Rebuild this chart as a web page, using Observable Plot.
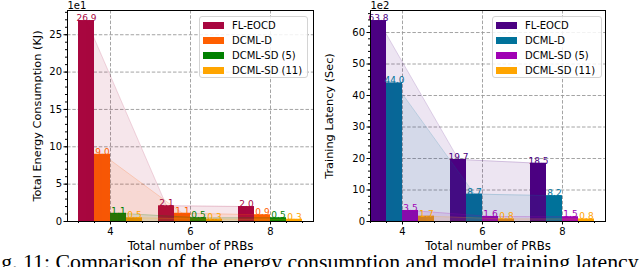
<!DOCTYPE html>
<html>
<head>
<meta charset="utf-8">
<script src="https://cdn.jsdelivr.net/npm/d3@7"></script>
<script src="https://cdn.jsdelivr.net/npm/@observablehq/plot@0.6"></script>
<style>
  html, body { margin: 0; padding: 0; background: #fff; }
  body { width: 640px; height: 267px; overflow: hidden; position: relative; }
  .panel { position: absolute; top: 0; }
  .legend { position: absolute; box-sizing: border-box; border: 1px solid #d4d4d4; border-radius: 3px;
            background: rgba(255,255,255,0.85); font-family: "DejaVu Sans", sans-serif; font-size: 10px; padding-top: 1px; }
  .legend .row { height: 15px; display: flex; align-items: center; white-space: nowrap; }
  .legend .sw { width: 21px; height: 7px; margin-left: 3px; margin-right: 8px; flex: none; }
  .caption { position: absolute; top: 251.5px; left: -17px; font-family: "Liberation Serif", serif; font-size: 21.8px;
             line-height: 21.8px; white-space: nowrap; color: #000; }
</style>
</head>
<body>
<div id="root"></div>
<script>
// ---- data ----
const prbs = [4, 6, 8];
const seriesNames = ["FL-EOCD", "DCML-D", "DCML-SD (5)", "DCML-SD (11)"];

const energyFLEOCD = [26.9, 2.1, 2.0];
const energyDCMLD  = [9.0, 1.1, 0.9];
const energySD5    = [1.1, 0.5, 0.5];
const energySD11   = [0.5, 0.3, 0.3];

const latencyFLEOCD = [63.8, 19.7, 18.5];
const latencyDCMLD  = [44.0, 8.7, 8.2];
const latencySD5    = [3.5, 1.6, 1.5];
const latencySD11   = [1.7, 0.8, 0.8];

const energyColors  = ["#a8063f", "#ff5f00", "#008000", "#ffa500"];
const latencyColors = ["#4b0082", "#00729a", "#a000b4", "#ffa500"];

const energyTicks  = [0, 5, 10, 15, 20, 25];
const latencyTicks = [0, 10, 20, 30, 40, 50, 60];

const captionText = "Fig. 11: Comparison of the energy consumption and model training latency";

// ---- helpers ----
const barWidth = 0.4;
function rowsFor(valueArrays, colors) {
  const rows = [];
  valueArrays.forEach((vals, si) => {
    vals.forEach((v, gi) => {
      const xc = prbs[gi] + (si - 1.5) * barWidth;
      rows.push({series: seriesNames[si], color: colors[si], value: v, xc,
                 x1: xc - barWidth / 2, x2: xc + barWidth / 2});
    });
  });
  return rows;
}

function panel({rows, xDomain, yMax, yTicks, yMinorStep, yLabel, offsetText, width, marginLeft, marginRight, labelDx}) {
  const xMinor = d3.range(32, 91, 4).map(d => d / 10).filter(d => d >= xDomain[0] - 1e-9 && d <= xDomain[1]);
  const yMinor = d3.range(0, yMax, yMinorStep);
  return Plot.plot({
    width, height: 252,
    marginLeft, marginRight, marginTop: 10, marginBottom: 31,
    x: {domain: xDomain},
    y: {domain: [0, yMax]},
    color: {type: "identity"},
    style: {fontFamily: "DejaVu Sans, sans-serif", fontSize: "10px", background: "transparent", overflow: "visible", color: "#000"},
    marks: [
      Plot.gridX(prbs, {stroke: "#9a9a9a", strokeOpacity: 1, strokeWidth: 0.9, strokeDasharray: "3.5,1.8"}),
      Plot.gridY(yTicks, {stroke: "#9a9a9a", strokeOpacity: 1, strokeWidth: 0.9, strokeDasharray: "3.5,1.8"}),
      Plot.rect(rows, {x1: "x1", x2: "x2", y1: 0, y2: "value", fill: "color"}),
      Plot.area(rows, {x1: "xc", y1: 0, y2: "value", z: "series", fill: "color", fillOpacity: 0.1}),
      Plot.line(rows, {x: "xc", y: "value", z: "series", stroke: "color", strokeOpacity: 0.18, strokeWidth: 1}),
      Plot.text(rows, {x: "xc", y: "value", text: d => d.value.toFixed(1), fill: "color", fontSize: 9, lineAnchor: "bottom", dy: 0.5}),
      Plot.frame({stroke: "#000", strokeWidth: 1}),
      Plot.axisX(prbs, {tickSize: 3.5, tickPadding: 3, fontSize: 10, label: null, tickFormat: d => String(d)}),
      Plot.axisX(xMinor, {tickSize: 2, tickFormat: () => "", label: null}),
      Plot.axisY(yTicks, {tickSize: 3.5, tickPadding: 2, fontSize: 10, label: null, tickFormat: d => String(d)}),
      Plot.axisY(yMinor, {tickSize: 2, tickFormat: () => "", label: null}),
      Plot.text([offsetText], {frameAnchor: "top-left", text: d => d, textAnchor: "start", lineAnchor: "bottom", dy: -2, fontSize: 10}),
      Plot.text([yLabel], {frameAnchor: "left", text: d => d, rotate: -90, dx: labelDx, fontSize: 11.3, textAnchor: "middle", lineAnchor: "middle"}),
      Plot.text(["Total number of PRBs"], {frameAnchor: "bottom", text: d => d, dy: 25, fontSize: 11.8, lineAnchor: "middle"})
    ]
  });
}

function legend(colors, left, top, width) {
  const div = document.createElement("div");
  div.className = "legend";
  div.style.left = left + "px";
  div.style.top = top + "px";
  div.style.width = width + "px";
  div.style.height = "62px";
  seriesNames.forEach((name, i) => {
    const row = document.createElement("div");
    row.className = "row";
    const sw = document.createElement("span");
    sw.className = "sw";
    sw.style.background = colors[i];
    const t = document.createElement("span");
    t.textContent = name;
    row.appendChild(sw); row.appendChild(t);
    div.appendChild(row);
  });
  return div;
}

const root = document.getElementById("root");

const left = panel({
  rows: rowsFor([energyFLEOCD, energyDCMLD, energySD5, energySD11], energyColors),
  xDomain: [2.925, 9.075], yMax: 28.245, yTicks: energyTicks, yMinorStep: 1,
  yLabel: "Total Energy Consumption (KJ)", offsetText: "1e1",
  width: 320, marginLeft: 67, marginRight: 7, labelDx: -30
});
left.classList.add("panel");
left.style.left = "0px";
root.appendChild(left);

const right = panel({
  rows: rowsFor([latencyFLEOCD, latencyDCMLD, latencySD5, latencySD11], latencyColors),
  xDomain: [3.2, 9.075], yMax: 66.99, yTicks: latencyTicks, yMinorStep: 2,
  yLabel: "Training Latency (Sec)", offsetText: "1e2",
  width: 320, marginLeft: 50, marginRight: 35, labelDx: -41
});
right.classList.add("panel");
right.style.left = "320px";
root.appendChild(right);

root.appendChild(legend(energyColors, 199, 16, 109));
root.appendChild(legend(latencyColors, 492, 16, 110));

const cap = document.createElement("div");
cap.className = "caption";
cap.textContent = captionText;
root.appendChild(cap);
</script>
</body>
</html>
